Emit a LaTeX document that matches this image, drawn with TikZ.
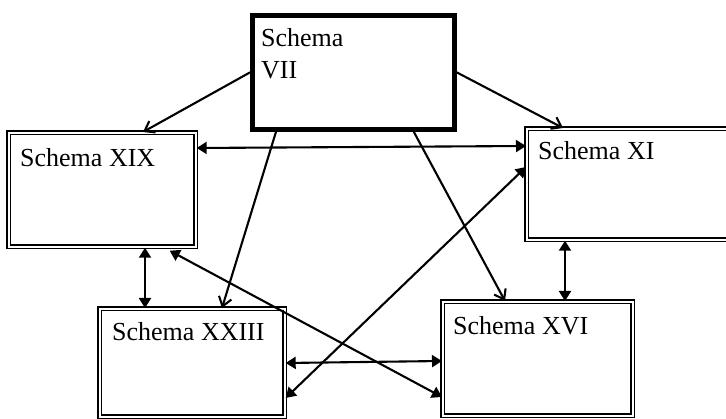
\documentclass[tikz,border=0pt]{standalone}
\usepackage{fontspec}
\setmainfont{Liberation Serif}
\usetikzlibrary{arrows.meta,calc}
\begin{document}
\begin{tikzpicture}[x=1pt,y=-1pt,
  thickbox/.style={draw, line width=4.8pt, rectangle, inner sep=0pt, anchor=north west},
  dbox/.style={draw, double, line width=1.7pt, double distance=1.4pt, rectangle, inner sep=0pt, anchor=north west},
  lbl/.style={anchor=base west, inner sep=0pt, font=\fontsize{26}{32}\selectfont},
  link/.style={line width=2.1pt, -{Straight Barb[length=9pt,width=13pt]}},
  both/.style={line width=2.1pt, {Triangle[length=10pt,width=12pt]}-{Triangle[length=10pt,width=12pt]}},
]
\fill[white] (0,0) rectangle (726,419);
\useasboundingbox (0,0) rectangle (726,419);
\clip (0,0) rectangle (726,419);

% boxes
\node[thickbox, minimum width=202pt, minimum height=114pt] (s7) at (250,13) {};
\node[dbox, minimum width=187pt, minimum height=114pt] (s19) at (8,132) {};
\node[dbox, minimum width=230pt, minimum height=111pt] (s11) at (526,128) {};
\node[dbox, minimum width=185pt, minimum height=108pt] (s23) at (99,308) {};
\node[dbox, minimum width=190pt, minimum height=114pt] (s16) at (442,301) {};

% labels
\node[lbl] (t7a) at ($(s7.north west)+(11,34)$) {Schema};
\node[lbl] (t7b) at ($(s7.north west)+(11,66)$) {VII};
\node[lbl] (t19) at ($(s19.north west)+(12,35)$) {Schema XIX};
\node[lbl] (t11) at ($(s11.north west)+(12,32)$) {Schema XI};
\node[lbl] (t23) at ($(s23.north west)+(13,33)$) {Schema XXIII};
\node[lbl] (t16) at ($(s16.north west)+(11,34)$) {Schema XVI};

% arrows leaving Schema VII
\draw[link] (s7.west) -- ($(s19.north west)+(135,0)$);
\draw[link] (s7.east) -- ($(s11.north west)+(37,0)$);
\draw[link] ($(s7.south west)+(26,0)$) -- ($(s23.north west)+(123,0)$);
\draw[link] ($(s7.south east)+(-43,0)$) -- ($(s16.north west)+(63,0)$);

% two-way links
\draw[both] ($(s19.north east)+(0,16)$) -- ($(s11.north west)+(0,18)$);
\draw[both] ($(s19.south west)+(137,0)$) -- ($(s23.north west)+(46,0)$);
\draw[both] ($(s11.south west)+(39,0)$) -- ($(s16.north west)+(123,0)$);
\draw[both] ($(s19.south east)+(-27,3)$) -- ($(s16.north west)+(0,96)$);
\draw[both] ($(s23.north east)+(0,90)$) -- ($(s11.north west)+(0,39)$);
\draw[both] ($(s23.north east)+(0,55)$) -- ($(s16.north west)+(0,60)$);
\end{tikzpicture}
\end{document}
